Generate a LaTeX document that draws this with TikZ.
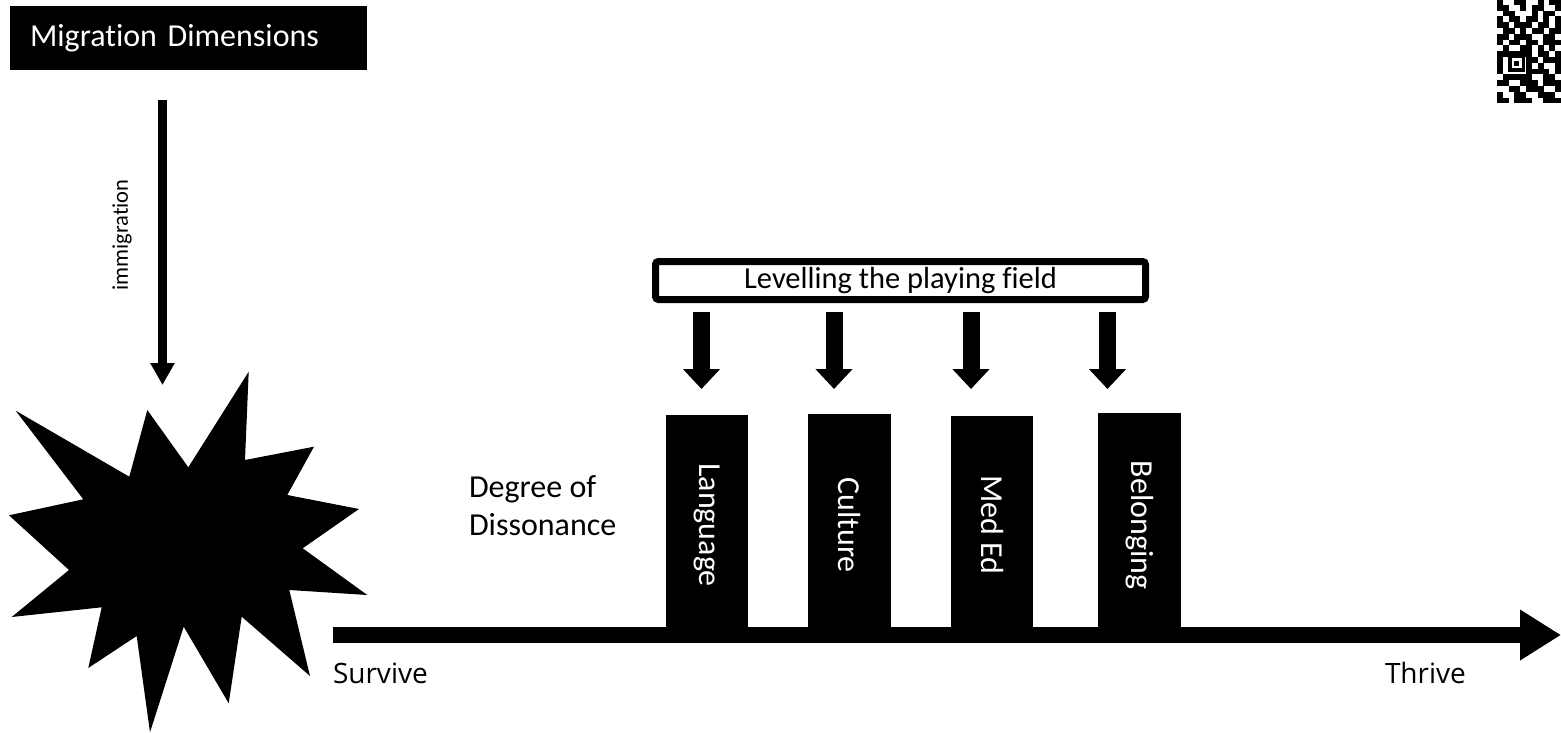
\documentclass[tikz,border=0pt]{standalone}
\usepackage{fontspec}
\setmainfont{Carlito}[RawFeature={-liga;-clig;-calt;-dlig}]
\newfontfamily\axisfont{Open Sans}[Ligatures=NoCommon]
\usetikzlibrary{arrows.meta}

\begin{document}
\begin{tikzpicture}[x=1pt,y=-1pt,
  every node/.style={inner sep=0pt, outer sep=0pt},
  lbl/.style={font=\fontsize{32}{38}\selectfont},
  headerbox/.style={lbl, fill=black, text=white, anchor=north west,
    minimum width=357pt, minimum height=64pt, text width=317pt,
    align=left, inner xsep=20pt},
  framebox/.style={font=\fontsize{30.5}{36}\selectfont, draw, line width=7pt, rounded corners=3pt},
  bar/.style={fill=black, anchor=north west},
  barlabel/.style={lbl, text=white, rotate=-90},
  thinarrow/.style={line width=9pt, -{Triangle[width=23pt,length=22pt]}},
  downarrow/.style={line width=17pt, -{Triangle[width=36pt,length=20pt]}},
  axisarrow/.style={line width=16pt, -{Triangle[width=48pt,length=41pt]}},
  endlabel/.style={font=\axisfont\fontsize{28}{34}\selectfont, anchor=base west},
]
\useasboundingbox (0,0) rectangle (1561,733);

% title block
\node[headerbox] (dims) at (10,6) {Migration Dimensions};

% immigration arrow and its label
\coordinate (imm-top) at (162.5,100);
\coordinate (imm-tip) at (162.5,385);
\draw[thinarrow] (imm-top) -- (imm-tip);
\node[font=\fontsize{22.5}{27}\selectfont, rotate=90] (immlbl) at (122,235) {immigration};

% starburst
\fill (248.7,371.7) -- (245,460) -- (314,446.7) -- (287.3,495) -- (359,509)
  -- (302.7,548.3) -- (367.3,595) -- (289.3,590) -- (310,676) -- (241.7,616.7)
  -- (228.7,703.3) -- (183.7,626.7) -- (150,732.3) -- (136.7,636) -- (88.3,668)
  -- (101.7,607.3) -- (11.7,617) -- (69,570) -- (9,515.3) -- (83.3,499.3)
  -- (15.7,410.7) -- (129.3,476.7) -- (147.3,410) -- (188.3,467.3) -- cycle;

% levelling frame and its arrows
\node[framebox, minimum width=490pt, minimum height=38pt] (level) at (900.5,280.5)
  {Levelling the playing field};
\foreach \x [count=\i] in {701.5,834,971,1107.5} {
  \coordinate (d\i-top) at (\x,312);
  \coordinate (d\i-tip) at (\x,389);
  \draw[downarrow] (d\i-top) -- (d\i-tip);
}

% dimension bars
\node[bar, minimum width=82pt, minimum height=220pt] (lang) at (666,415) {};
\node[bar, minimum width=83pt, minimum height=221pt] (cult) at (808,414) {};
\node[bar, minimum width=82pt, minimum height=219pt] (med) at (951,416) {};
\node[bar, minimum width=83pt, minimum height=222pt] (belong) at (1098,413) {};
\node[barlabel] (langlbl) at (707,525) {Language};
\node[barlabel] (cultlbl) at (849.5,525) {Culture};
\node[barlabel] (medlbl) at (992,525) {Med Ed};
\node[barlabel] (belonglbl) at (1139.5,525) {Belonging};

\node[lbl, anchor=base west] (deg1) at (469,497) {Degree of};
\node[lbl, anchor=base west] (deg2) at (469,535) {Dissonance};

% survive-thrive axis
\coordinate (ax-start) at (333,635);
\coordinate (ax-end) at (1561,635);
\draw[axisarrow] (ax-start) -- (ax-end);
\node[endlabel] (survive) at (333,683) {Survive};
\node[endlabel] (thrive) at (1385,683) {Thrive};

% QR code corner
\foreach \row [count=\r from 0] in {
  {1,0,0,1,1,0,0,1,0,1,1},
  {1,1,0,0,1,0,1,1,0,0,1},
  {0,1,1,0,0,0,1,0,1,1,0},
  {1,0,1,1,0,1,1,0,1,0,1},
  {1,1,0,1,1,1,0,1,1,0,1},
  {0,1,1,0,1,0,1,1,0,1,1},
  {1,1,0,1,1,1,0,0,1,1,0},
  {1,0,1,1,0,1,1,0,1,1,1},
  {0,1,0,0,1,1,0,1,0,1,0},
  {1,1,1,1,1,1,0,1,1,0,1},
  {1,0,0,0,0,1,1,0,1,1,1},
  {1,0,0,0,0,1,0,1,0,0,1},
  {1,0,0,0,0,1,1,1,1,0,1},
  {0,1,1,1,1,1,0,0,1,1,0},
  {1,1,0,0,1,1,1,0,1,1,1},
  {0,0,1,1,0,1,1,1,0,0,1},
  {1,0,0,1,1,0,0,1,1,1,0},
  {1,1,0,1,1,1,0,0,1,1,1}} {
  \foreach \b [count=\c from 0] in \row {
    \ifnum\b=1
      \fill (1497+5.8*\c,-1+5.8*\r) rectangle ++(5.9,5.9);
    \fi
  }
}
\fill (1508,55) rectangle ++(17,17);
\fill[white] (1511.5,58.5) rectangle ++(10,10);
\fill (1514,61) rectangle ++(5,5);
\end{tikzpicture}
\end{document}
